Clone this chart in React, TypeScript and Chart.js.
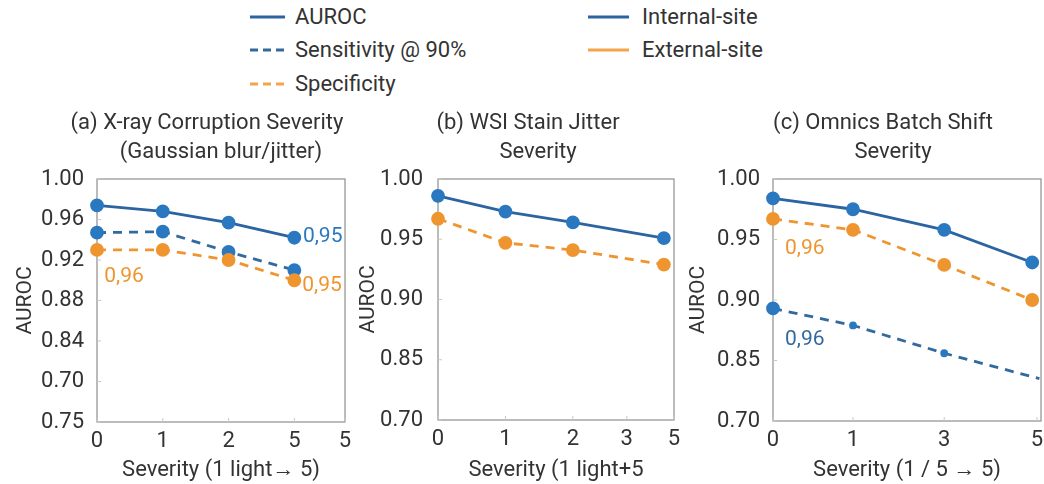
import React, { useEffect, useRef } from "react";
import { Chart, registerables } from "chart.js";

Chart.register(...registerables);

const FONT = "Roboto, 'Noto Sans', sans-serif";
const TEXT = "#333333";
const BLUE_LINE = "#2c64a2";
const BLUE_PT = "#2a78c0";
const BLUE_DASH = "#336a9e";
const ORANGE = "#ef952f";
const ORANGE_LEG = "#f2a54a";

// ---------- Panel (a) ----------
const aTitle = ["(a) X-ray Corruption Severity", "(Gaussian blur/jitter)"];
const aXTitle = "Severity (1 light\u2192 5)";
const aX = [0, 1, 2, 3];
const aXTicks = [0, 1, 2, 3, 3.77];
const aXTickLabels = ["0", "1", "2", "5", "5"];
const aYTicks = [0.76, 0.8, 0.84, 0.88, 0.92, 0.96, 1.0];
const aYTickLabels = ["0.75", "0.70", "0.84", "0.88", "0.92", "0.96", "1.00"];
const aAuroc = [0.974, 0.968, 0.957, 0.942];
const aSens = [0.947, 0.948, 0.928, 0.91];
const aSpec = [0.93, 0.93, 0.92, 0.9];
const aNotes = [
  { text: "0,95", x: 3.13, y: 0.943, color: BLUE_PT },
  { text: "0,96", x: 0.11, y: 0.903, color: ORANGE },
  { text: "0,95", x: 3.12, y: 0.895, color: ORANGE },
];

// ---------- Panel (b) ----------
const bTitle = ["(b) WSI Stain Jitter", "Severity"];
const bXTitle = "Severity (1 light+5";
const bX = [0, 1, 2, 3.35];
const bXTicks = [0, 1, 2, 2.8, 3.5];
const bXTickLabels = ["0", "1", "2", "3", "5"];
const bYTicks = [0.8, 0.85, 0.9, 0.95, 1.0];
const bYTickLabels = ["0.70", "0.85", "0.90", "0.95", "1.00"];
const bInternal = [0.986, 0.973, 0.964, 0.951];
const bExternal = [0.967, 0.947, 0.941, 0.929];

// ---------- Panel (c) ----------
const cTitle = ["(c) Omnics Batch Shift", "Severity"];
const cXTitle = "Severity (1 / 5 \u2192 5)";
const cX = [0, 1, 2.14, 3.24];
const cXSens = [0, 1, 2.14, 3.33];
const cXTicks = [0, 1, 2.14, 3.3];
const cXTickLabels = ["0", "1", "3", "5"];
const cYTicks = [0.8, 0.85, 0.9, 0.95, 1.0];
const cYTickLabels = ["0.70", "0.85", "0.90", "0.95", "1.00"];
const cAuroc = [0.984, 0.975, 0.958, 0.931];
const cSpec = [0.967, 0.958, 0.929, 0.9];
const cSens = [0.893, 0.879, 0.856, 0.835];
const cNotes = [
  { text: "0,96", x: 0.15, y: 0.942, color: ORANGE },
  { text: "0,96", x: 0.15, y: 0.867, color: BLUE_DASH },
];

const pts = (xs: number[], ys: number[]) => xs.map((x, i) => ({ x, y: ys[i] }));

const decoPlugin = {
  id: "panelDeco",
  beforeDatasetsDraw(chart: any) {
    const { ctx, chartArea: ca, scales } = chart;
    ctx.save();
    ctx.strokeStyle = "#8e8e8e";
    ctx.lineWidth = 1.2;
    ctx.strokeRect(ca.left, ca.top, ca.right - ca.left, ca.bottom - ca.top);
    ctx.strokeStyle = "#c8c8c8";
    ctx.lineWidth = 1;
    scales.x.ticks.forEach((t: any) => {
      const px = scales.x.getPixelForValue(t.value);
      ctx.beginPath();
      ctx.moveTo(px, ca.bottom);
      ctx.lineTo(px, ca.bottom - 4);
      ctx.stroke();
    });
    scales.y.ticks.forEach((t: any) => {
      const py = scales.y.getPixelForValue(t.value);
      ctx.beginPath();
      ctx.moveTo(ca.left, py);
      ctx.lineTo(ca.left + 4, py);
      ctx.stroke();
    });
    ctx.restore();
  },
  afterDraw(chart: any, _a: any, opts: any) {
    const { ctx, chartArea: ca, scales } = chart;
    ctx.save();
    ctx.fillStyle = TEXT;
    ctx.font = `22px ${FONT}`;
    ctx.textAlign = "center";
    ctx.textBaseline = "middle";
    const cx = (ca.left + ca.right) / 2;
    (opts.title || []).forEach((t: string, i: number) =>
      ctx.fillText(t, cx + (opts.titleDx?.[i] || 0), opts.titleY + i * 29)
    );
    ctx.textAlign = "left";
    ctx.font = `21px ${FONT}`;
    (opts.notes || []).forEach((n: any) => {
      ctx.fillStyle = n.color;
      ctx.fillText(n.text, scales.x.getPixelForValue(n.x), scales.y.getPixelForValue(n.y));
    });
    ctx.restore();
  },
};

type PanelCfg = {
  left: number;
  top: number;
  w: number;
  h: number;
  padRight: number;
  padTop: number;
  yW: number;
  xH: number;
  yTitlePad: number;
  yTickPad: number;
  xMax: number;
  xTicks: number[];
  xTickLabels: string[];
  yMin: number;
  yMax: number;
  yTicks: number[];
  yTickLabels: string[];
  xTitle: string;
  title: string[];
  titleDx: number[];
  notes: any[];
  datasets: any[];
};

function Panel({ cfg }: { cfg: PanelCfg }) {
  const ref = useRef<HTMLCanvasElement | null>(null);
  useEffect(() => {
    const chart = new Chart(ref.current as HTMLCanvasElement, {
      type: "line",
      data: { datasets: cfg.datasets },
      plugins: [decoPlugin as any],
      options: {
        animation: false,
        responsive: false,
        devicePixelRatio: 1,
        layout: { padding: { left: 0, right: cfg.padRight, top: cfg.padTop, bottom: 0 } },
        plugins: {
          legend: { display: false },
          tooltip: { enabled: false },
          panelDeco: { title: cfg.title, titleDx: cfg.titleDx, titleY: 23, notes: cfg.notes },
        } as any,
        scales: {
          x: {
            type: "linear",
            min: 0,
            max: cfg.xMax,
            afterBuildTicks: (s: any) => {
              s.ticks = cfg.xTicks.map((v) => ({ value: v }));
            },
            afterFit: (s: any) => {
              s.height = cfg.xH;
            },
            ticks: {
              callback: (_v: any, i: number) => cfg.xTickLabels[i],
              font: { family: FONT, size: 22 },
              color: TEXT,
              padding: 6,
              maxRotation: 0,
              autoSkip: false,
            },
            grid: { display: false, drawTicks: false },
            border: { display: false },
            title: {
              display: true,
              text: cfg.xTitle,
              font: { family: FONT, size: 22 },
              color: TEXT,
              padding: { top: 0, bottom: 0 },
            },
          },
          y: {
            type: "linear",
            min: cfg.yMin,
            max: cfg.yMax,
            afterBuildTicks: (s: any) => {
              s.ticks = cfg.yTicks.map((v) => ({ value: v }));
            },
            afterFit: (s: any) => {
              s.width = cfg.yW;
            },
            ticks: {
              callback: (_v: any, i: number) => cfg.yTickLabels[i],
              font: { family: FONT, size: 22 },
              color: TEXT,
              padding: cfg.yTickPad,
              autoSkip: false,
            },
            grid: { display: false, drawTicks: false },
            border: { display: false },
            title: {
              display: true,
              text: "AUROC",
              font: { family: FONT, size: 21 },
              color: TEXT,
              padding: { top: cfg.yTitlePad, bottom: 0 },
            },
          },
        },
      } as any,
    });
    return () => chart.destroy();
  }, []);
  return (
    <canvas
      ref={ref}
      width={cfg.w}
      height={cfg.h}
      style={{ position: "absolute", left: cfg.left, top: cfg.top, width: cfg.w, height: cfg.h }}
    />
  );
}

const solid = (data: any[], pointRadius: any = 5.5) => ({
  data,
  borderColor: BLUE_LINE,
  backgroundColor: BLUE_PT,
  pointBackgroundColor: BLUE_PT,
  pointBorderColor: BLUE_PT,
  pointRadius,
  borderWidth: 2.8,
  tension: 0,
  clip: false,
});
const dashed = (data: any[], color: string, ptColor: string, pointRadius: any = 5.5) => ({
  data,
  borderColor: color,
  backgroundColor: ptColor,
  pointBackgroundColor: ptColor,
  pointBorderColor: ptColor,
  pointRadius,
  borderWidth: 2.8,
  borderDash: [9, 7],
  tension: 0,
  clip: false,
});

const panelA: PanelCfg = {
  left: 0,
  top: 100,
  w: 360,
  h: 384,
  padRight: 15,
  padTop: 79,
  yW: 97,
  xH: 62,
  yTitlePad: 13,
  yTickPad: 13,
  xMax: 3.77,
  xTicks: aXTicks,
  xTickLabels: aXTickLabels,
  yMin: 0.76,
  yMax: 1.0,
  yTicks: aYTicks,
  yTickLabels: aYTickLabels,
  xTitle: aXTitle,
  title: aTitle,
  titleDx: [-14, 0],
  notes: aNotes,
  datasets: [
    dashed(pts(aX, aSpec), ORANGE, ORANGE),
    dashed(pts(aX, aSens), BLUE_DASH, BLUE_PT),
    solid(pts(aX, aAuroc)),
  ],
};

const panelB: PanelCfg = {
  left: 340,
  top: 100,
  w: 360,
  h: 384,
  padRight: 26,
  padTop: 79,
  yW: 98,
  xH: 64,
  yTitlePad: 16,
  yTickPad: 15,
  xMax: 3.5,
  xTicks: bXTicks,
  xTickLabels: bXTickLabels,
  yMin: 0.8,
  yMax: 1.0,
  yTicks: bYTicks,
  yTickLabels: bYTickLabels,
  xTitle: bXTitle,
  title: bTitle,
  titleDx: [-28, -18],
  notes: [],
  datasets: [dashed(pts(bX, bExternal), ORANGE, ORANGE), solid(pts(bX, bInternal))],
};

const panelC: PanelCfg = {
  left: 680,
  top: 100,
  w: 370,
  h: 384,
  padRight: 9,
  padTop: 79,
  yW: 93,
  xH: 63,
  yTitlePad: 6,
  yTickPad: 13,
  xMax: 3.35,
  xTicks: cXTicks,
  xTickLabels: cXTickLabels,
  yMin: 0.8,
  yMax: 1.0,
  yTicks: cYTicks,
  yTickLabels: cYTickLabels,
  xTitle: cXTitle,
  title: cTitle,
  titleDx: [-24, -14],
  notes: cNotes,
  datasets: [
    dashed(pts(cX, cSpec), ORANGE, ORANGE),
    dashed(pts(cXSens, cSens), BLUE_DASH, BLUE_PT, [5.5, 2.5, 2.5, 0]),
    solid(pts(cX, cAuroc)),
  ],
};

const legendItems = [
  { label: "AUROC", x: 250, y: 17, color: BLUE_LINE, dash: false },
  { label: "Sensitivity @ 90%", x: 250, y: 50, color: BLUE_DASH, dash: true },
  { label: "Specificity", x: 250, y: 84, color: ORANGE_LEG, dash: true },
  { label: "Internal-site", x: 588, y: 17, color: BLUE_LINE, dash: false },
  { label: "External-site", x: 588, y: 50, color: ORANGE_LEG, dash: false },
];

function Legend() {
  return (
    <>
      {legendItems.map((it, i) => {
        const sw = it.x < 400 ? 35 : 41;
        const gap = it.x < 400 ? 45 : 54;
        return (
          <React.Fragment key={i}>
            <svg
              width={sw}
              height={6}
              style={{ position: "absolute", left: it.x, top: it.y - 3 }}
            >
              <line
                x1={0}
                y1={3}
                x2={sw}
                y2={3}
                stroke={it.color}
                strokeWidth={3}
                strokeDasharray={it.dash ? "8 5" : undefined}
              />
            </svg>
            <span
              style={{
                position: "absolute",
                left: it.x + gap,
                top: it.y - 14,
                fontFamily: FONT,
                fontSize: 22,
                lineHeight: "28px",
                color: TEXT,
                whiteSpace: "nowrap",
              }}
            >
              {it.label}
            </span>
          </React.Fragment>
        );
      })}
    </>
  );
}

export default function App() {
  return (
    <div
      style={{
        position: "absolute",
        left: 0,
        top: 0,
        width: 1044,
        height: 484,
        background: "#ffffff",
        overflow: "hidden",
      }}
    >
      <Legend />
      <Panel cfg={panelA} />
      <Panel cfg={panelB} />
      <Panel cfg={panelC} />
    </div>
  );
}
